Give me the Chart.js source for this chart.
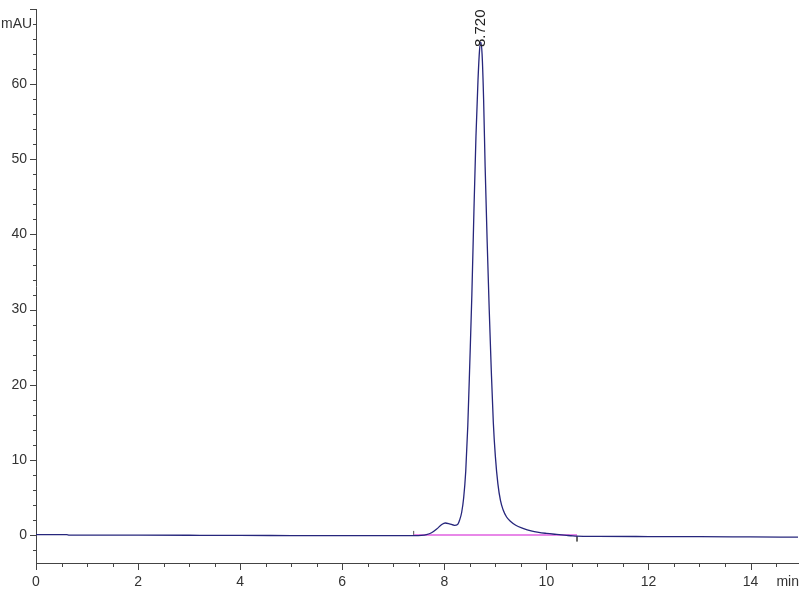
<!DOCTYPE html>
<html>
<head>
<meta charset="utf-8">
<script src="https://cdn.jsdelivr.net/npm/chart.js@4"></script>
<style>
  html, body { margin: 0; padding: 0; background: #fff; }
  #wrap { width: 800px; height: 600px; }
</style>
</head>
<body>
<div id="wrap"><canvas id="chrom"></canvas></div>
<script>
// retention time (min) and absorbance (mAU)
var times = [0, 0.6, 0.65, 2, 3, 3.5, 4, 5, 6, 7, 7.4, 7.55, 7.65, 7.75, 7.85, 7.95, 8.02, 8.1, 8.2,
    8.26, 8.3, 8.34, 8.38, 8.42, 8.46, 8.5, 8.54, 8.58, 8.62, 8.66, 8.69, 8.715, 8.74, 8.77, 8.8,
    8.84, 8.88, 8.92, 8.96, 9.0, 9.05, 9.1, 9.15, 9.22, 9.3, 9.4, 9.54, 9.7, 9.85, 10.0, 10.2,
    10.4, 10.52, 10.6, 11, 12, 13, 14, 14.93];
var mau = [0.05, 0.05, 0.0, -0.02, -0.03, -0.05, -0.05, -0.07, -0.08, -0.08, -0.08, -0.05, 0.05, 0.3, 0.8, 1.4, 1.6, 1.5, 1.3,
    1.4, 2.0, 3.0, 5.0, 8.5, 14.5, 23, 32, 43, 53, 60.5, 64.5, 65.6, 64, 58, 49,
    39, 30, 22, 15, 10.5, 6.8, 4.6, 3.4, 2.4, 1.8, 1.3, 0.9, 0.55, 0.35, 0.22, 0.08,
    -0.05, -0.12, -0.15, -0.18, -0.2, -0.22, -0.25, -0.28];

// integration baseline and its start/end markers
var baseTimes = [7.4, 10.6];
var baseVals = [0, 0];
var startMark = [-0.08, 0.55];
var endMark = [-0.15, -0.85];

var peakTime = 8.72;
var peakLabel = '8.720';

var xMin = 0, xMax = 14.93;
var yMin = -3.72, yMax = 70;

var fontFam = '"Liberation Sans", Arial, sans-serif';
var textCol = '#333';
var axisCol = '#444';

function pts(xs, ys) {
    return xs.map(function(x, i) { return { x: x, y: ys[i] }; });
}

var extras = {
    id: 'extras',
    afterDraw: function(chart) {
        var c = chart.ctx, a = chart.chartArea;
        var xs = chart.scales.x, ys = chart.scales.y;
        c.save();
        c.strokeStyle = axisCol;
        c.lineWidth = 1;
        // tick marks, long on labelled values
        xs.ticks.forEach(function(t) {
            var px = Math.round(xs.getPixelForValue(t.value)) + 0.5;
            var len = Math.abs(t.value % 2) < 1e-6 ? 7 : 4;
            c.beginPath(); c.moveTo(px, a.bottom); c.lineTo(px, a.bottom + len); c.stroke();
        });
        ys.ticks.forEach(function(t) {
            var py = Math.round(ys.getPixelForValue(t.value)) + 0.5;
            var len = Math.abs(t.value % 10) < 1e-6 ? 6 : 3;
            c.beginPath(); c.moveTo(a.left - len, py); c.lineTo(a.left, py); c.stroke();
        });
        // unit labels
        c.fillStyle = textCol;
        c.font = '14px ' + fontFam;
        c.textBaseline = 'middle';
        c.textAlign = 'left';
        c.fillText('mAU', 1, ys.getPixelForValue(68));
        c.textAlign = 'right';
        c.fillText('min', 799, a.bottom + 19);
        // peak retention label, rotated
        var px = xs.getPixelForValue(peakTime);
        var py = ys.getPixelForValue(65.6) + 5;
        c.translate(px, py);
        c.rotate(-Math.PI / 2);
        c.textAlign = 'left';
        c.font = '15px ' + fontFam;
        c.fillStyle = '#222';
        c.fillText(peakLabel, 0, 0);
        c.restore();
    }
};

new Chart(document.getElementById('chrom'), {
    type: 'line',
    data: {
        datasets: [{
            data: pts(times, mau),
            borderColor: '#26267c',
            borderWidth: 1.3,
            pointRadius: 0,
            cubicInterpolationMode: 'monotone',
            order: 0
        }, {
            data: pts(baseTimes, baseVals),
            borderColor: '#e060e0',
            borderWidth: 1.5,
            pointRadius: 0,
            order: 1
        }, {
            data: pts([baseTimes[0], baseTimes[0]], startMark),
            borderColor: '#555',
            borderWidth: 1,
            pointRadius: 0,
            order: 2
        }, {
            data: pts([baseTimes[1], baseTimes[1]], endMark),
            borderColor: '#555',
            borderWidth: 1,
            pointRadius: 0,
            order: 2
        }]
    },
    options: {
        responsive: true,
        maintainAspectRatio: false,
        animation: false,
        layout: { padding: { top: 9, right: 2, left: 0, bottom: 0 } },
        plugins: { legend: { display: false }, tooltip: { enabled: false } },
        scales: {
            x: {
                type: 'linear',
                min: xMin,
                max: xMax,
                afterBuildTicks: function(s) {
                    var out = [];
                    for (var v = 0; v <= xMax + 1e-9; v += 0.5) out.push({ value: v });
                    s.ticks = out;
                },
                afterFit: function(s) { s.height = 37; s.paddingLeft = 0; s.paddingRight = 0; },
                border: { display: true, color: axisCol },
                grid: { drawOnChartArea: false, drawTicks: false },
                ticks: {
                    autoSkip: false,
                    maxRotation: 0,
                    padding: 11,
                    color: textCol,
                    font: { family: fontFam, size: 14 },
                    callback: function(v) { return Math.abs(v % 2) < 1e-6 ? String(v) : ''; }
                }
            },
            y: {
                min: yMin,
                max: yMax,
                afterBuildTicks: function(s) {
                    var out = [];
                    for (var v = -2; v <= yMax + 1e-9; v += 2) out.push({ value: v });
                    s.ticks = out;
                },
                afterFit: function(s) { s.width = 36; s.paddingTop = 0; s.paddingBottom = 0; },
                border: { display: true, color: axisCol },
                grid: { drawOnChartArea: false, drawTicks: false },
                ticks: {
                    autoSkip: false,
                    padding: 9,
                    color: textCol,
                    font: { family: fontFam, size: 14 },
                    callback: function(v) { return Math.abs(v % 10) < 1e-6 && v < 70 ? String(v) : ''; }
                }
            }
        }
    },
    plugins: [extras]
});
</script>
</body>
</html>
